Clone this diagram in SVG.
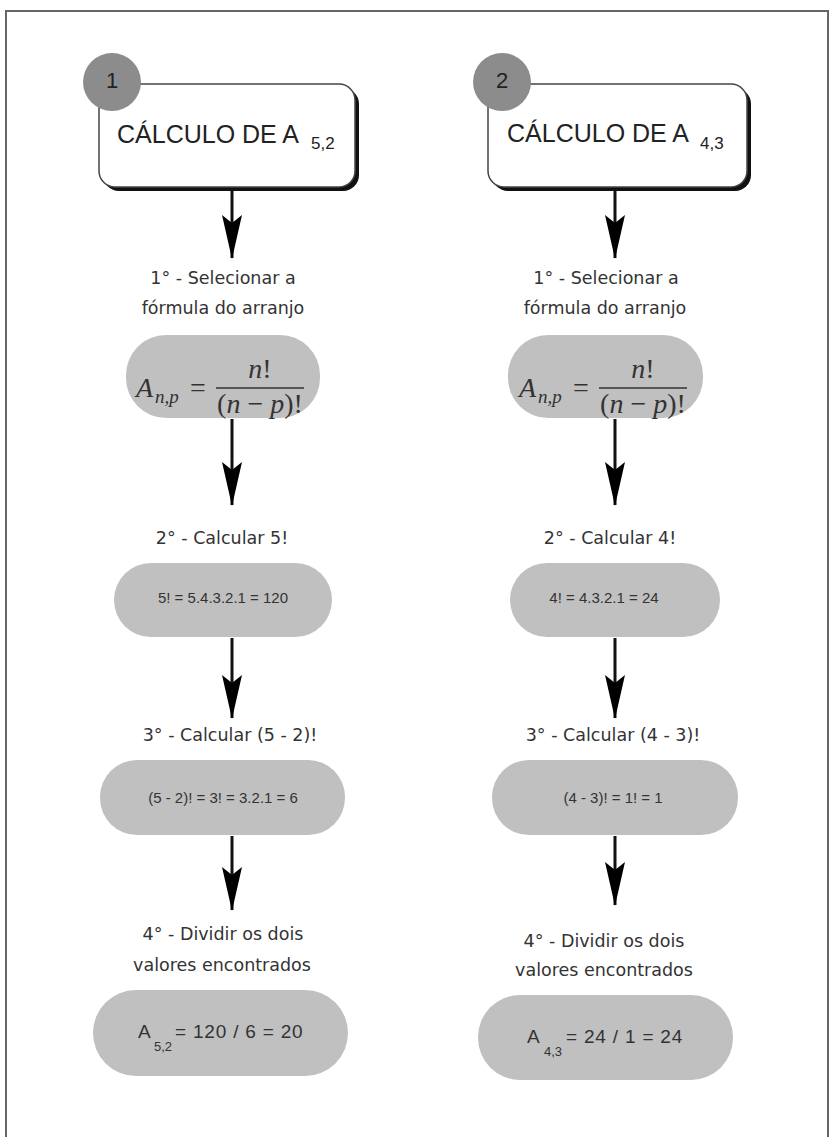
<svg xmlns="http://www.w3.org/2000/svg" width="830" height="1137" viewBox="0 0 830 1137">
  <style>
    .title { font-family: "Liberation Sans", Arial, sans-serif; font-size: 25px; fill: #222; }
    .sub { font-family: "Liberation Sans", Arial, sans-serif; font-size: 17px; fill: #222; }
    .num { font-family: "Liberation Sans", Arial, sans-serif; font-size: 22px; fill: #222; text-anchor: middle; }
    .step { font-family: "DejaVu Sans", sans-serif; font-size: 17.5px; fill: #333; text-anchor: middle; }
    .calc { font-family: "Liberation Sans", Arial, sans-serif; font-size: 15px; fill: #333; text-anchor: middle; }
    .res { font-family: "Liberation Sans", Arial, sans-serif; font-size: 19px; fill: #333; letter-spacing: 0.8px; }
    .ressub { font-family: "Liberation Sans", Arial, sans-serif; font-size: 13px; fill: #333; }
    .math { font-family: "Liberation Serif", "Times New Roman", serif; font-size: 28px; fill: #333; font-style: italic; }
    .mathsub { font-family: "Liberation Serif", "Times New Roman", serif; font-size: 19px; fill: #333; font-style: italic; }
    .mathr { font-family: "Liberation Serif", "Times New Roman", serif; font-size: 28px; fill: #333; }
    .pill { fill: #c0c0c0; }
    .badge { fill: #8c8c8c; }
    .card { fill: #fff; stroke: #444; stroke-width: 1.5; }
    .cardshadow { fill: #111; }
    .link { stroke: #111; stroke-width: 3; fill: none; marker-end: url(#head); }
  </style>
  <defs>
    <marker id="head" viewBox="0 0 44 20" refX="43" refY="10" markerWidth="44" markerHeight="20" markerUnits="userSpaceOnUse" orient="auto">
      <path d="M0,0 Q22,5 44,10 Q22,15 0,20 L8,10 Z" fill="#000"/>
    </marker>
  </defs>

  <!-- page frame -->
  <rect x="6" y="11" width="822" height="1140" fill="none" stroke="#666" stroke-width="2"/>

  <!-- connectors -->
  <g id="connectors">
    <line class="link" x1="232" y1="188" x2="232" y2="258"/>
    <line class="link" x1="232" y1="419" x2="232" y2="505"/>
    <line class="link" x1="232" y1="638" x2="232" y2="718"/>
    <line class="link" x1="232" y1="836" x2="232" y2="910"/>
    <line class="link" x1="615" y1="188" x2="615" y2="258"/>
    <line class="link" x1="615" y1="419" x2="615" y2="505"/>
    <line class="link" x1="615" y1="638" x2="615" y2="718"/>
    <line class="link" x1="615" y1="836" x2="615" y2="905"/>
  </g>

  <!-- left column: A(5,2) -->
  <g id="head1">
    <rect class="cardshadow" x="103" y="88" width="256" height="103" rx="16"/>
    <rect class="card" x="99" y="84" width="256" height="103" rx="16"/>
    <text class="title" x="117" y="143">CÁLCULO DE A</text>
    <text class="sub" x="311" y="149">5,2</text>
  </g>
  <g id="badge1">
    <circle class="badge" cx="112" cy="82" r="29"/>
    <text class="num" x="112" y="88">1</text>
  </g>
  <g id="step1a">
    <text class="step" x="223" y="284">1° - Selecionar a</text>
    <text class="step" x="223" y="314">fórmula do arranjo</text>
  </g>
  <g id="formula1">
    <rect class="pill" x="126" y="335" width="194" height="83" rx="40"/>
    <text class="math" x="136" y="397">A</text>
    <text class="mathsub" x="155" y="403">n,p</text>
    <text class="mathr" x="190" y="397">=</text>
    <line x1="216" y1="388" x2="304" y2="388" stroke="#333" stroke-width="1.5"/>
    <text class="mathr" x="260" y="378" text-anchor="middle"><tspan font-style="italic">n</tspan>!</text>
    <text class="mathr" x="260" y="413" text-anchor="middle">(<tspan font-style="italic">n</tspan> − <tspan font-style="italic">p</tspan>)!</text>
  </g>
  <g id="step1b">
    <text class="step" x="222" y="544">2° - Calcular 5!</text>
    <rect class="pill" x="114" y="563" width="218" height="74" rx="37"/>
    <text class="calc" x="223" y="603">5! = 5.4.3.2.1 = 120</text>
  </g>
  <g id="step1c">
    <text class="step" x="230" y="741">3° - Calcular (5 - 2)!</text>
    <rect class="pill" x="100" y="760" width="245" height="75" rx="37"/>
    <text class="calc" x="223" y="803">(5 - 2)! = 3! = 3.2.1 = 6</text>
  </g>
  <g id="step1d">
    <text class="step" x="223" y="940">4° - Dividir os dois</text>
    <text class="step" x="222" y="971">valores encontrados</text>
    <rect class="pill" x="93" y="990" width="255" height="86" rx="43"/>
    <text class="res" x="138" y="1038">A</text>
    <text class="ressub" x="154" y="1051">5,2</text>
    <text class="res" x="175" y="1038">= 120 / 6 = 20</text>
  </g>

  <!-- right column: A(4,3) -->
  <g id="head2">
    <rect class="cardshadow" x="492" y="88" width="259" height="103" rx="16"/>
    <rect class="card" x="488" y="84" width="259" height="103" rx="16"/>
    <text class="title" x="507" y="142">CÁLCULO DE A</text>
    <text class="sub" x="700" y="149">4,3</text>
  </g>
  <g id="badge2">
    <circle class="badge" cx="502" cy="82" r="29"/>
    <text class="num" x="502" y="88">2</text>
  </g>
  <g id="step2a">
    <text class="step" x="606" y="284">1° - Selecionar a</text>
    <text class="step" x="605" y="314">fórmula do arranjo</text>
  </g>
  <g id="formula2">
    <rect class="pill" x="508" y="335" width="195" height="83" rx="40"/>
    <text class="math" x="519" y="397">A</text>
    <text class="mathsub" x="538" y="403">n,p</text>
    <text class="mathr" x="573" y="397">=</text>
    <line x1="599" y1="388" x2="687" y2="388" stroke="#333" stroke-width="1.5"/>
    <text class="mathr" x="643" y="378" text-anchor="middle"><tspan font-style="italic">n</tspan>!</text>
    <text class="mathr" x="643" y="413" text-anchor="middle">(<tspan font-style="italic">n</tspan> − <tspan font-style="italic">p</tspan>)!</text>
  </g>
  <g id="step2b">
    <text class="step" x="610" y="544">2° - Calcular 4!</text>
    <rect class="pill" x="510" y="563" width="210" height="74" rx="37"/>
    <text class="calc" x="604" y="603">4! = 4.3.2.1 = 24</text>
  </g>
  <g id="step2c">
    <text class="step" x="613" y="741">3° - Calcular (4 - 3)!</text>
    <rect class="pill" x="492" y="760" width="246" height="75" rx="37"/>
    <text class="calc" x="613" y="803">(4 - 3)! = 1! = 1</text>
  </g>
  <g id="step2d">
    <text class="step" x="604" y="947">4° - Dividir os dois</text>
    <text class="step" x="604" y="976">valores encontrados</text>
    <rect class="pill" x="478" y="995" width="255" height="85" rx="42"/>
    <text class="res" x="527" y="1043">A</text>
    <text class="ressub" x="544" y="1056">4,3</text>
    <text class="res" x="566" y="1043">= 24 / 1 = 24</text>
  </g>
</svg>
